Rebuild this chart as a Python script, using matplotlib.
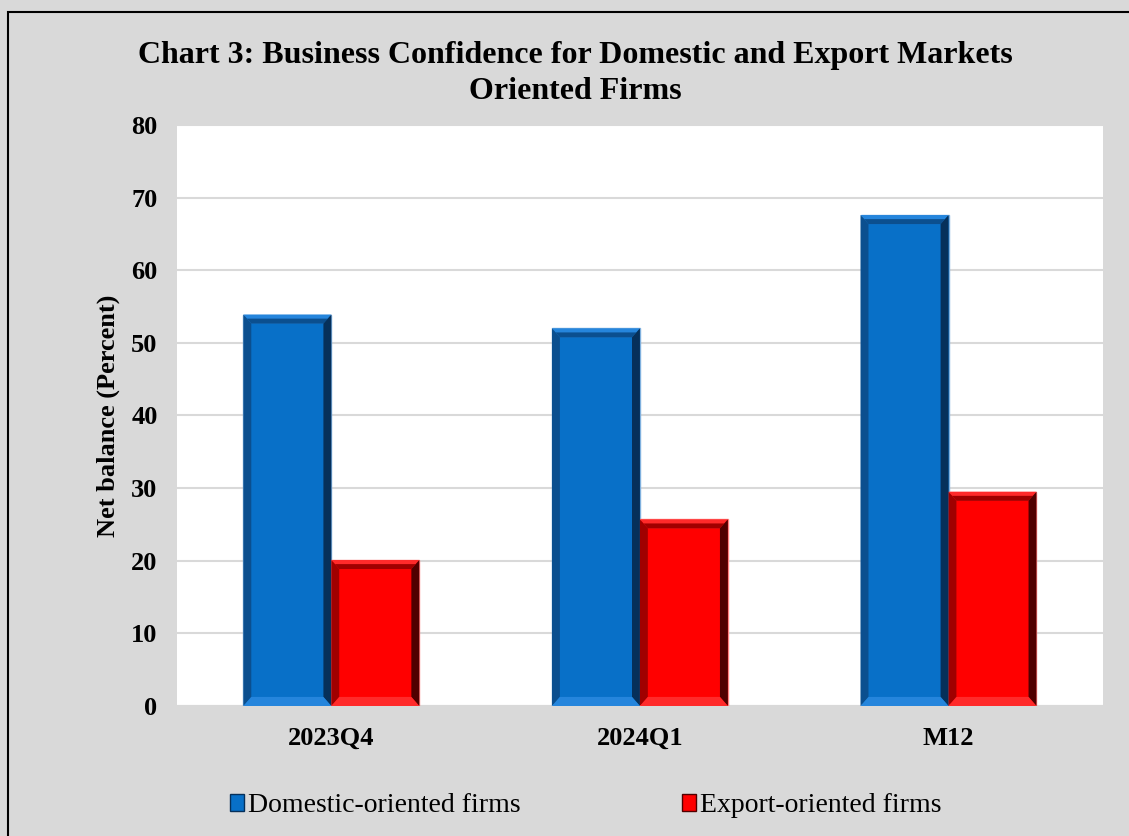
import matplotlib.pyplot as plt
import matplotlib.patches as mpatches
import numpy as np

categories = ["2023Q4", "2024Q1", "M12"]
domestic = [53.9, 52.0, 67.6]
export = [20.1, 25.7, 29.5]
series_names = ["Domestic-oriented firms", "Export-oriented firms"]
yticks = [0, 10, 20, 30, 40, 50, 60, 70, 80]

plt.rcParams['font.family'] = ['Liberation Serif', 'DejaVu Serif']

fig = plt.figure(figsize=(11.29, 8.36), dpi=100)
fig.patch.set_facecolor("#d9d9d9")
fig.add_artist(mpatches.Rectangle((8 / 1129, -0.2), 1.2, 1.2 - 12 / 836,
                                  transform=fig.transFigure, fill=False,
                                  edgecolor="black", linewidth=1.5))

ax = fig.add_axes([0.1568, 0.1555, 0.82, 0.695])
ax.set_facecolor("white")

x = np.arange(len(categories))
w = 0.285


def bevel_bar(ax, xc, h, width, base, dark, darker, light, rim):
    # main face
    ax.bar(xc, h, width, color=base, edgecolor=rim, linewidth=1.0, zorder=3)
    bx = width * 0.09
    by = 1.25
    x0, x1 = xc - width / 2, xc + width / 2
    y0, y1 = 0, h
    # top strip
    ax.add_patch(mpatches.Polygon([(x0, y1), (x1, y1), (x1 - bx, y1 - by), (x0 + bx, y1 - by)],
                                  closed=True, color=light, zorder=4, linewidth=0))
    ax.add_patch(mpatches.Polygon([(x0 + bx * 0.45, y1 - by * 0.45), (x1 - bx * 0.45, y1 - by * 0.45),
                                   (x1 - bx, y1 - by), (x0 + bx, y1 - by)],
                                  closed=True, color=dark, zorder=4, linewidth=0))
    # left strip
    ax.add_patch(mpatches.Polygon([(x0, y0), (x0, y1), (x0 + bx, y1 - by), (x0 + bx, y0 + by)],
                                  closed=True, color=dark, zorder=4, linewidth=0))
    # right strip
    ax.add_patch(mpatches.Polygon([(x1, y0), (x1, y1), (x1 - bx, y1 - by), (x1 - bx, y0 + by)],
                                  closed=True, color=darker, zorder=4, linewidth=0))
    # bottom strip
    ax.add_patch(mpatches.Polygon([(x0, y0), (x1, y0), (x1 - bx, y0 + by), (x0 + bx, y0 + by)],
                                  closed=True, color=light, zorder=4, linewidth=0))


for i in range(len(categories)):
    bevel_bar(ax, x[i] - w / 2, domestic[i], w, "#0870c8", "#0b4f8f", "#06305a", "#2585dc", "#7fb0de")
    bevel_bar(ax, x[i] + w / 2, export[i], w, "#ff0000", "#a00000", "#500000", "#ff2a2a", "#ff8080")

ax.set_xlim(-0.5, len(categories) - 0.5)
ax.set_ylim(0, 80)
ax.set_yticks(yticks)
ax.set_yticklabels([str(t) for t in yticks], fontsize=19, fontweight="bold")
ax.set_xticks(x)
ax.set_xticklabels(categories, fontsize=19, fontweight="bold")
ax.tick_params(axis="both", length=0, pad=14)
ax.tick_params(axis="x", pad=15)
ax.yaxis.grid(True, color="#d9d9d9", linewidth=1.5, zorder=0)
ax.set_axisbelow(True)
for s in ["left", "right", "top"]:
    ax.spines[s].set_visible(False)
ax.spines["bottom"].set_color("#d9d9d9")
ax.spines["bottom"].set_linewidth(1.5)

ax.set_ylabel("Net balance (Percent)", fontsize=19, fontweight="bold", labelpad=8)

fig.text(0.510, 0.912, "Chart 3: Business Confidence for Domestic and Export Markets\nOriented Firms",
         ha="center", va="center", fontsize=23, fontweight="bold", linespacing=1.3)

handles = [mpatches.Patch(facecolor="#0870c8", edgecolor="#06305a"),
           mpatches.Patch(facecolor="#ff0000", edgecolor="#500000")]
fig.legend(handles, series_names, loc="center", bbox_to_anchor=(0.519, 0.036), ncol=2,
           frameon=False, fontsize=20, handlelength=0.5, handleheight=0.6,
           handletextpad=0.15, columnspacing=5.8)

fig.savefig("out.png", dpi=100, facecolor=fig.get_facecolor())
